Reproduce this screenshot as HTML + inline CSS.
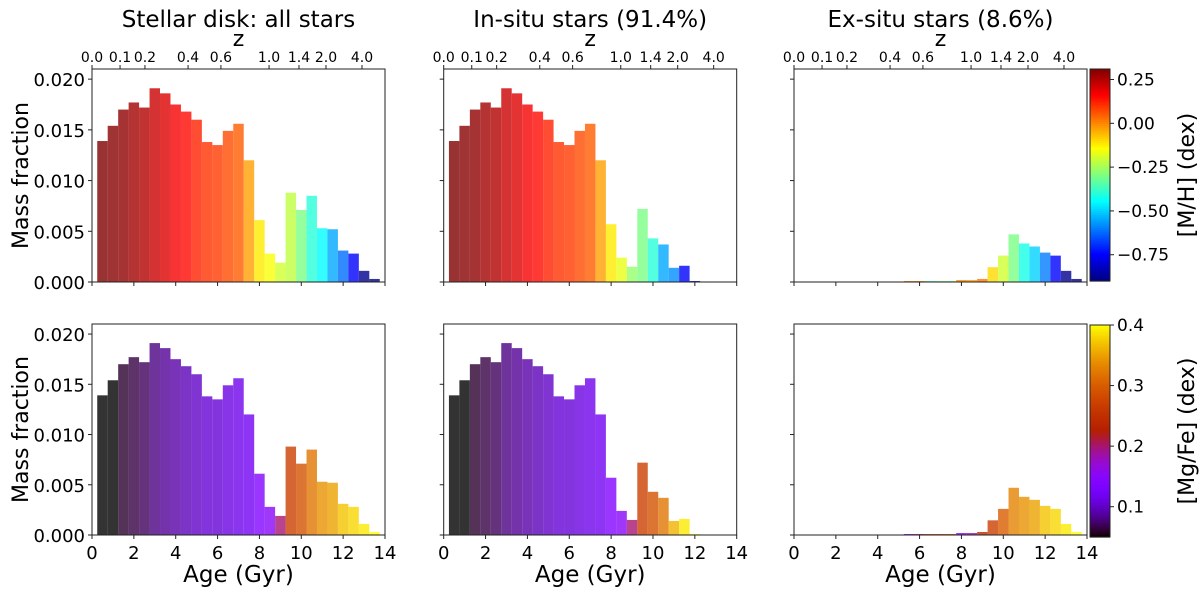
<!DOCTYPE html>
<html><head><meta charset="utf-8"><style>
html,body{margin:0;padding:0;background:#fff;}
svg{display:block;font-family:"DejaVu Sans","Liberation Sans",sans-serif;}
</style></head><body>
<svg id="fig" width="1200" height="589" viewBox="0 0 1200 589" xmlns="http://www.w3.org/2000/svg"></svg>
<script>
// ---- data ----
const binStart = 0.25, binWidth = 0.5;
const massAll = [0.0139,0.0154,0.0170,0.0177,0.0172,0.0191,0.0186,0.0175,0.0168,0.0160,0.0138,0.0135,0.0149,0.0156,0.0120,0.0061,0.0028,0.0019,0.0088,0.0071,0.0085,0.0053,0.0052,0.0031,0.0028,0.0011,0.0003];
const massInsitu = [0.0139,0.0154,0.0170,0.0177,0.0172,0.0191,0.0186,0.0175,0.0168,0.0160,0.0138,0.0135,0.0149,0.0156,0.0120,0.0057,0.0024,0.0015,0.0072,0.0043,0.0037,0.0014,0.0016,0.0001,0.00005,0,0];
const massExsitu = [0,0,0,0,0,0,0,0,0,0,0.0001,0.0001,0.0001,0.0001,0.0001,0.0002,0.0002,0.0003,0.00146,0.0026,0.0047,0.0038,0.0035,0.0029,0.0026,0.0011,0.0003];
const mhAll = [0.31,0.30,0.29,0.27,0.25,0.22,0.2,0.17,0.15,0.12,0.1,0.09,0.07,0.05,-0.03,-0.12,-0.15,-0.2,-0.22,-0.3,-0.4,-0.45,-0.55,-0.62,-0.75,-0.88,-0.9];
const mhInsitu = [0.31,0.30,0.29,0.27,0.25,0.22,0.2,0.17,0.15,0.12,0.1,0.09,0.07,0.05,-0.03,-0.12,-0.17,-0.27,-0.3,-0.4,-0.55,-0.58,-0.75,-0.85,-0.88,-0.9,-0.9];
const mhExsitu = [0,0,0,0,0,0,0,0,0,0,0.0,0.0,-0.35,-0.3,-0.3,0.0,-0.02,0.02,-0.1,-0.2,-0.3,-0.42,-0.5,-0.6,-0.75,-0.88,-0.9];
const mgAll = [0.05,0.05,0.06,0.065,0.07,0.08,0.085,0.09,0.095,0.1,0.105,0.105,0.11,0.115,0.12,0.14,0.15,0.2,0.27,0.29,0.32,0.34,0.35,0.37,0.38,0.39,0.4];
const mgInsitu = [0.05,0.05,0.06,0.065,0.07,0.08,0.085,0.09,0.095,0.1,0.105,0.105,0.11,0.115,0.12,0.14,0.15,0.2,0.27,0.29,0.32,0.36,0.39,0.4,0.4,0.4,0.4];
const mgExsitu = [0,0,0,0,0,0,0,0,0,0,0.15,0.2,0.27,0.27,0.28,0.14,0.18,0.24,0.27,0.3,0.33,0.34,0.35,0.37,0.38,0.39,0.4];
const titles = ["Stellar disk: all stars","In-situ stars (91.4%)","Ex-situ stars (8.6%)"];
const ageTicks = [0,2,4,6,8,10,12,14];
const yTicks = [0,0.005,0.010,0.015,0.020];
const zLabels = ["0.0","0.1","0.2","0.4","0.6","1.0","1.4","2.0","4.0"];
const zLookback = [0,1.34,2.53,4.59,6.16,8.46,9.89,11.18,12.9];
const mhTicks = [0.25,0,-0.25,-0.5,-0.75];
const mgTicks = [0.1,0.2,0.3,0.4];

// ---- layout ----
const NS="http://www.w3.org/2000/svg";
const svg=document.getElementById('fig');
const px=[92,443.7,794], pw=293;
const rows=[{top:69,zero:282},{top:324,zero:535}];
const YMAX=0.021;
function el(tag,attrs,parent){const e=document.createElementNS(NS,tag);for(const k in attrs)e.setAttribute(k,attrs[k]);(parent||svg).appendChild(e);return e;}
function txt(s,attrs,parent){const e=el('text',attrs,parent);e.textContent=s;return e;}
function xs(p,age){return px[p]+age/14*pw;}
function ys(r,v){const R=rows[r];return R.zero-v/YMAX*(R.zero-R.top);}
function clamp(x){return Math.max(0,Math.min(1,x));}
function jet(t){t=clamp(t);const r=clamp(1.5-Math.abs(4*t-3)),g=clamp(1.5-Math.abs(4*t-2)),b=clamp(1.5-Math.abs(4*t-1));return `rgb(${Math.round(r*255)},${Math.round(g*255)},${Math.round(b*255)})`;}
function gnup(t){t=clamp(t);const r=Math.sqrt(t),g=t*t*t,b=clamp(Math.sin(2*Math.PI*t));return `rgb(${Math.round(r*255)},${Math.round(g*255)},${Math.round(b*255)})`;}
const mhMin=-0.9,mhMax=0.31,mgMin=0.05,mgMax=0.4;
const mhC=v=>jet((v-mhMin)/(mhMax-mhMin));
const mgC=v=>gnup((v-mgMin)/(mgMax-mgMin));

const masses=[massAll,massInsitu,massExsitu];
const mhs=[mhAll,mhInsitu,mhExsitu];
const mgs=[mgAll,mgInsitu,mgExsitu];

for(let p=0;p<3;p++){
  for(let r=0;r<2;r++){
    const R=rows[r];
    const g=el('g',{});
    
    
    const m=masses[p];
    for(let i=0;i<m.length;i++){
      if(m[i]<=0)continue;
      const x0=xs(p,binStart+i*binWidth),x1=xs(p,binStart+(i+1)*binWidth);
      const c=r===0?mhC(mhs[p][i]):mgC(mgs[p][i]);
      const b=el('rect',{x:x0,y:ys(r,m[i]),width:x1-x0,height:R.zero-ys(r,m[i]),fill:c,'fill-opacity':0.8},g);
      
      
    }
    const f=el('rect',{x:px[p],y:R.top,width:pw,height:R.zero-R.top,fill:'none',stroke:'#222','stroke-width':1},g);
    
    
    yTicks.forEach(v=>{
      const y=ys(r,v);
      el('line',{x1:px[p]-4,x2:px[p],y1:y,y2:y,stroke:'#222'},g);
      if(p===0){const t=txt(v.toFixed(3),{x:px[p]-7,y:y+7,'text-anchor':'end','font-size':18},g);
        }
    });
    ageTicks.forEach(a=>{
      const x=xs(p,a);
      el('line',{x1:x,x2:x,y1:R.zero,y2:R.zero+4,stroke:'#222'},g);
      if(r===1){const t=txt(String(a),{x:x,y:R.zero+24,'text-anchor':'middle','font-size':18},g);
        }
    });
    if(r===0){
      zLookback.forEach((a,k)=>{
        const x=xs(p,a);
        el('line',{x1:x,x2:x,y1:R.top-4,y2:R.top,stroke:'#222'},g);
        const t=txt(zLabels[k],{x:x,y:R.top-7,'text-anchor':'middle','font-size':14},g);
        
      });
      const z=txt('z',{x:px[p]+pw/2,y:46,'text-anchor':'middle','font-size':22},g);
      
      const tt=txt(titles[p],{x:px[p]+pw/2,y:27,'text-anchor':'middle','font-size':23},g);
      
    } else {
      const xl=txt('Age (Gyr)',{x:px[p]+pw/2,y:582,'text-anchor':'middle','font-size':23},g);
      
    }
    if(p===0){
      const cy=(R.top+R.zero)/2;
      const yl=txt('Mass fraction',{x:0,y:0,'text-anchor':'middle','font-size':22,transform:`translate(28,${cy}) rotate(-90)`},g);
      
    }
  }
}
const cbars=[{top:69,bot:281,min:mhMin,max:mhMax,fn:mhC,ticks:mhTicks,fmt:v=>(v<0?'\u2212':'')+Math.abs(v).toFixed(2),label:'[M/H] (dex)',name:'colorbar-mh'},
             {top:325,bot:537,min:mgMin,max:mgMax,fn:mgC,ticks:mgTicks,fmt:v=>v.toFixed(1),label:'[Mg/Fe] (dex)',name:'colorbar-mgfe'}];
cbars.forEach(cb=>{
  const g=el('g',{});
  
  
  const N=100,h=(cb.bot-cb.top)/N;
  for(let i=0;i<N;i++){
    const v=cb.max-(i+0.5)/N*(cb.max-cb.min);
    el('rect',{x:1090,y:cb.top+i*h,width:20,height:h+0.6,fill:cb.fn(v)},g);
  }
  el('rect',{x:1090,y:cb.top,width:20,height:cb.bot-cb.top,fill:'none',stroke:'#222'},g);
  cb.ticks.forEach(v=>{
    const y=cb.bot-(v-cb.min)/(cb.max-cb.min)*(cb.bot-cb.top);
    el('line',{x1:1110,x2:1114,y1:y,y2:y,stroke:'#222'},g);
    const t=txt(cb.fmt(v),{x:1117,y:y+6,'font-size':17},g);
    
  });
  const cy=(cb.top+cb.bot)/2;
  const l=txt(cb.label,{x:0,y:0,'text-anchor':'middle','font-size':22,transform:`translate(1194,${cy}) rotate(-90)`},g);
  
});
</script>
</body></html>
